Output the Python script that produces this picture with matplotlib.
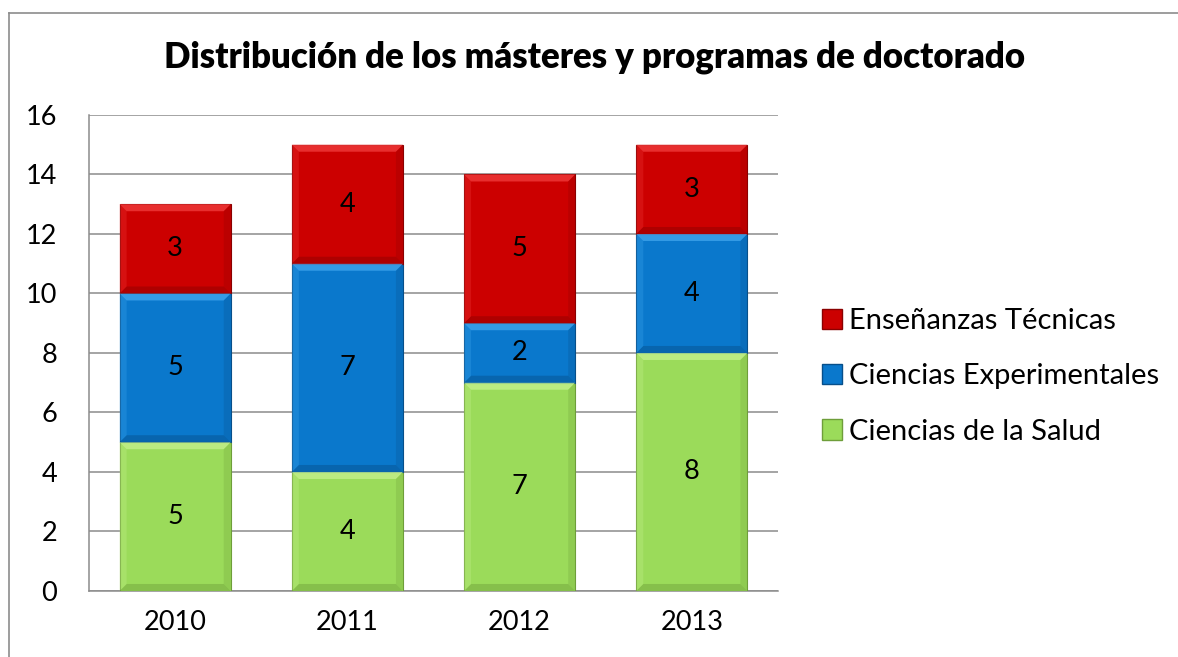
import matplotlib.pyplot as plt
from matplotlib.patches import Rectangle, Polygon
from matplotlib.lines import Line2D
import numpy as np

plt.rcParams['font.family'] = ['Lato', 'DejaVu Sans']

years = ['2010', '2011', '2012', '2013']
salud = [5, 4, 7, 8]
experimentales = [5, 7, 2, 4]
tecnicas = [3, 4, 5, 3]

series = [
    ('Ciencias de la Salud', salud, '#9BDB5A', '#C4F08C', '#6E9E3A'),
    ('Ciencias Experimentales', experimentales, '#0A78CC', '#3FA4EC', '#074F8A'),
    ('Enseñanzas Técnicas', tecnicas, '#CC0000', '#F03A3A', '#8A0000'),
]

fig = plt.figure(figsize=(11.78, 6.57), dpi=100)
ax = fig.add_axes([0.0756, 0.1005, 0.5848, 0.7245])

# outer chart border: only left and top edges are inside the picture
bx, by = 8.5 / 1178, 1 - 12.5 / 657
fig.add_artist(Line2D([bx, bx], [0, by], transform=fig.transFigure, color='#8c8c8c', lw=1.2))
fig.add_artist(Line2D([bx, 1], [by, by], transform=fig.transFigure, color='#8c8c8c', lw=1.2))

x = np.arange(len(years))
bottom = np.zeros(len(years))
bev_x = 7 / 172.3   # bevel width in data units
bev_y = 7 / 29.75
handles = []
for name, vals, col, light, dark in series:
    bars = ax.bar(x, vals, 0.645, bottom=bottom, color=col, edgecolor=dark, linewidth=0.8, zorder=3)
    for b, v in zip(bars, vals):
        x0, y0, w, h = b.get_x(), b.get_y(), b.get_width(), b.get_height()
        x1, y1 = x0 + w, y0 + h
        # bevel: top light, bottom dark, sides in between
        ax.add_patch(Polygon([(x0, y1), (x1, y1), (x1 - bev_x, y1 - bev_y), (x0 + bev_x, y1 - bev_y)],
                             closed=True, facecolor=light, edgecolor='none', zorder=4, alpha=0.8))
        ax.add_patch(Polygon([(x0, y0), (x1, y0), (x1 - bev_x, y0 + bev_y), (x0 + bev_x, y0 + bev_y)],
                             closed=True, facecolor=dark, edgecolor='none', zorder=4, alpha=0.45))
        ax.add_patch(Polygon([(x1, y0), (x1, y1), (x1 - bev_x, y1 - bev_y), (x1 - bev_x, y0 + bev_y)],
                             closed=True, facecolor=dark, edgecolor='none', zorder=4, alpha=0.25))
        ax.add_patch(Polygon([(x0, y0), (x0, y1), (x0 + bev_x, y1 - bev_y), (x0 + bev_x, y0 + bev_y)],
                             closed=True, facecolor=light, edgecolor='none', zorder=4, alpha=0.3))
        ax.text(x0 + w / 2, y0 + h / 2, str(v), ha='center', va='center', fontsize=19.5, zorder=5)
    bottom += np.array(vals)
    handles.append(Rectangle((0, 0), 1, 1, facecolor=col, edgecolor=dark, linewidth=1))

ax.set_xlim(-0.5, 3.5)
ax.set_ylim(0, 16)
ax.set_yticks(range(0, 17, 2))
ax.set_xticks(x)
ax.set_xticklabels(years)
ax.tick_params(axis='y', length=0, pad=23, labelsize=19.5)
ax.tick_params(axis='x', length=0, pad=14, labelsize=19.5)
ax.grid(axis='y', color='#8c8c8c', linewidth=1.1, zorder=0)
ax.set_axisbelow(True)
for s in ['top', 'right']:
    ax.spines[s].set_visible(False)
for s in ['left', 'bottom']:
    ax.spines[s].set_color('#8c8c8c')
    ax.spines[s].set_linewidth(1.1)

fig.text(0.505, 0.913, 'Distribución de los másteres y programas de doctorado',
         ha='center', va='center', fontsize=25, fontweight='heavy')

labels = [s[0] for s in series]
fig.legend(handles[::-1], labels[::-1], loc='center left', bbox_to_anchor=(0.685, 0.427),
           frameon=False, fontsize=21, handlelength=0.7, handleheight=0.7,
           handletextpad=0.25, labelspacing=1.0, borderpad=0)

fig.savefig('out.png', dpi=100)
